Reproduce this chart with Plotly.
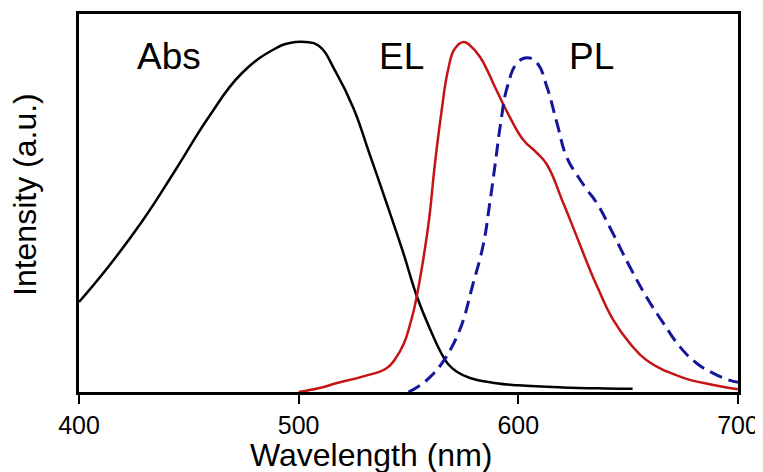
import plotly.graph_objects as go

# Absorption spectrum (black)
abs_wl = [400, 413, 429, 444, 459, 474, 489, 496, 503, 509, 517, 525, 532, 540, 547.5, 554,
          560, 565, 568, 572, 578, 590, 600, 620, 640, 652]
abs_int = [0.257, 0.355, 0.49, 0.635, 0.785, 0.91, 0.98, 0.997, 1.0, 0.99, 0.913, 0.81, 0.685,
           0.54, 0.40, 0.27, 0.177, 0.11, 0.08, 0.058, 0.04, 0.025, 0.019, 0.013, 0.01, 0.009]

# Electroluminescence spectrum (red)
el_wl = [500, 510, 517, 529, 540, 544, 548, 551, 553, 557, 559.5, 562, 565, 568, 571, 575, 578,
         582.5, 590, 596, 602.3, 608.3, 613, 620.5, 626.6, 632.6, 636, 643.2, 650.8, 658.4,
         673.6, 688.8, 700]
el_int = [0.0, 0.012, 0.025, 0.044, 0.068, 0.095, 0.14, 0.2, 0.25, 0.39, 0.5, 0.65, 0.8, 0.92,
          0.98, 1.0, 0.99, 0.958, 0.863, 0.787, 0.72, 0.684, 0.65, 0.539, 0.444, 0.349, 0.3,
          0.206, 0.139, 0.091, 0.044, 0.02, 0.008]

# Photoluminescence spectrum (blue dashed)
pl_wl = [550, 555, 560, 565, 569, 572.5, 575, 579, 584, 587, 589.5, 592, 595, 599.5, 604,
         608.5, 613, 617.6, 622, 626.7, 631, 635.7, 643, 650.8, 658.4, 666, 673.6, 681, 688.6,
         696, 700]
pl_int = [0.0, 0.018, 0.044, 0.08, 0.12, 0.165, 0.206, 0.3, 0.42, 0.54, 0.653, 0.77, 0.872,
          0.94, 0.955, 0.94, 0.872, 0.768, 0.671, 0.62, 0.58, 0.54, 0.454, 0.357, 0.271, 0.197,
          0.129, 0.083, 0.054, 0.034, 0.028]

x_ticks = [400, 500, 600, 700]
labels = ["Abs", "EL", "PL"]
label_x = [441, 547, 633.5]
label_y = [0.96, 0.96, 0.96]

FONT = "Liberation Sans, Arial, sans-serif"

fig = go.Figure()
fig.add_trace(go.Scatter(x=abs_wl, y=abs_int, mode="lines",
                         line=dict(color="black", width=2.5, shape="spline", smoothing=1.3),
                         showlegend=False, name="Abs"))
fig.add_trace(go.Scatter(x=el_wl, y=el_int, mode="lines",
                         line=dict(color="#c41414", width=2.5, shape="spline", smoothing=1.3),
                         showlegend=False, name="EL"))
fig.add_trace(go.Scatter(x=pl_wl, y=pl_int, mode="lines",
                         line=dict(color="#16169a", width=3, dash="13px,7px",
                                   shape="spline", smoothing=1.3),
                         showlegend=False, name="PL"))

for t, xv, yv in zip(labels, label_x, label_y):
    fig.add_annotation(x=xv, y=yv, xref="x", yref="y", text=t, showarrow=False,
                       xanchor="center", yanchor="middle",
                       font=dict(family=FONT, size=37, color="black"))

fig.add_annotation(x=(371 - 79) / 659, y=-0.167, xref="paper", yref="paper",
                   text="Wavelength (nm)", showarrow=False, xanchor="center", yanchor="middle",
                   font=dict(family=FONT, size=32, color="black"))
fig.add_annotation(x=(25 - 79) / 659, y=(392 - 195) / 378, xref="paper", yref="paper",
                   text="Intensity (a.u.)", showarrow=False, textangle=-90,
                   xanchor="center", yanchor="middle",
                   font=dict(family=FONT, size=32, color="black"))

# the page body adds an 8px offset, so margins are shifted to land the plot box
# at x 79..738, y 14..392 in the window
fig.update_layout(
    width=763, height=472,
    margin=dict(l=71, r=33, t=6, b=88, autoexpand=False),
    paper_bgcolor="white", plot_bgcolor="white",
    font=dict(family=FONT, color="black"),
    xaxis=dict(range=[400, 700], tickvals=x_ticks, ticktext=[str(v) for v in x_ticks],
               ticks="outside", ticklen=9, tickwidth=2, tickcolor="black",
               showline=True, linewidth=2.5, linecolor="black", mirror=True,
               showgrid=False, zeroline=False, tickfont=dict(family=FONT, size=25),
               automargin=False),
    yaxis=dict(range=[0, 1.08], showticklabels=False, ticks="",
               showline=True, linewidth=2.5, linecolor="black", mirror=True,
               showgrid=False, zeroline=False, automargin=False),
)

fig.write_html("out.html")
